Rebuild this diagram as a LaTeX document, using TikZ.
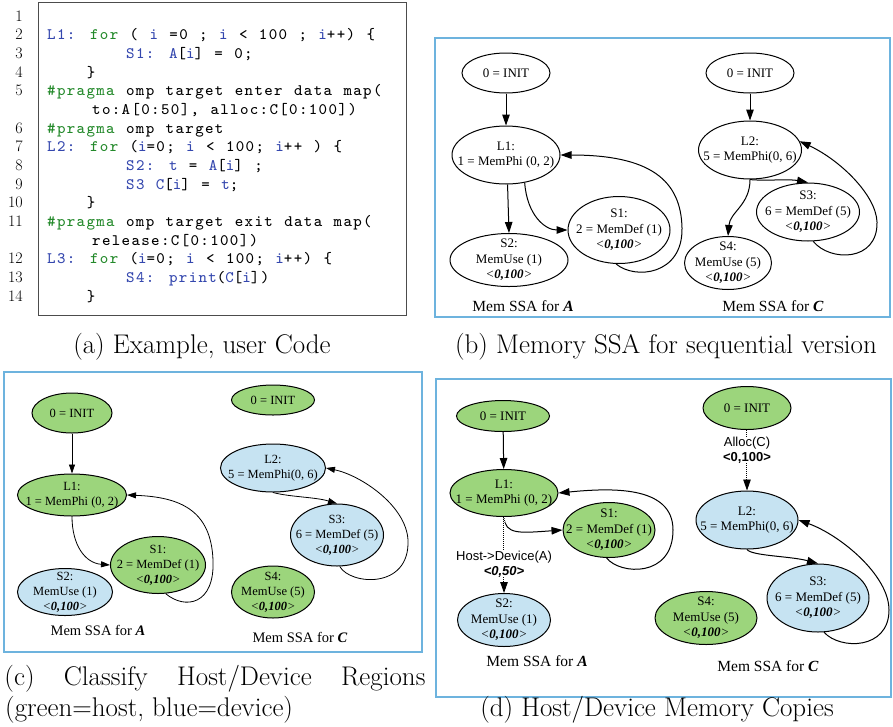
\documentclass[tikz,border=0pt]{standalone}
\usepackage{fontspec}
\usetikzlibrary{arrows.meta, shapes.geometric, positioning}
\newfontfamily\gvserif{Liberation Serif}
\newfontfamily\gvsans{Liberation Sans}
\newfontfamily\codefont{lmmono8-regular}[Extension=.otf, LetterSpace=8.4, WordSpace=1.16]
\definecolor{hostgreen}{HTML}{9CD57C}
\definecolor{devblue}{HTML}{C6E3F2}
\definecolor{panelblue}{HTML}{6DB3DE}
\definecolor{codeblue}{HTML}{3447AE}
\definecolor{codegreen}{HTML}{23892A}
\newcommand{\cid}[1]{\textcolor{codeblue}{#1}}
\newcommand{\ckw}[1]{\textcolor{codegreen}{#1}}
\newcommand{\range}[1]{\textit{<\textbf{#1}>}}

\begin{document}
\begin{tikzpicture}[x=1pt, y=-1pt,
    every node/.style={inner sep=0pt},
    every label/.style={align=center, inner sep=0pt},
    ssa/.style n args={3}{ellipse, draw, line width=1pt,
                          minimum width=#1pt, minimum height=#2pt, label={center:#3}},
    host/.style={fill=hostgreen},
    dev/.style={fill=devblue},
    arr/.style={-{Triangle[length=11pt, width=7.5pt]}, line width=1pt},
    smallarr/.style={-{Triangle[length=9pt, width=6pt]}, line width=0.8pt},
    copylink/.style={dash pattern=on 1pt off 1pt, double, double distance=1pt, line width=0.9pt},
    copylabel/.style={align=center, font=\gvsans\fontsize{13}{15}\selectfont},
    panel/.style={draw=panelblue, line width=1.2pt},
    codeline/.style={anchor=base west, font=\codefont\fontsize{16}{18}\selectfont},
    lineno/.style={anchor=base east, font=\fontsize{16}{18}\selectfont},
    capt/.style={anchor=base, font=\fontsize{27}{33}\selectfont},
    ssatitle/.style={font=\gvserif\fontsize{15.5}{18}\selectfont},
  ]
  \useasboundingbox (0,0) rectangle (893,726);

  % (a) user code
  \draw[draw=black!70, line width=0.8pt] (38,2) rectangle (406,315);
  \foreach \n/\k in {1/0,2/1,3/2,4/3,5/4,6/6,7/7,8/8,9/9,10/10,11/11,12/13,13/14,14/15}
    \node[lineno] (n\n) at (23,{21+18.68*\k}) {\n};
  \node[codeline] (c2)  at (47,39.7)   {\cid{L1:} \ckw{for} ( \cid{i} =0 ; \cid{i} < 100 ; \cid{i}++) \{};
  \node[codeline] (c3)  at (126,58.4)  {\cid{S1:} \cid{A}[\cid{i}] = 0;};
  \node[codeline] (c4)  at (86.6,77)   {\}};
  \node[codeline] (c5)  at (47,95.7)   {\ckw{\#pragma} omp target enter data map(};
  \node[codeline] (c5b) at (92,114.4)  {to:A[0:50], alloc:C[0:100])};
  \node[codeline] (c6)  at (47,133)    {\ckw{\#pragma} omp target};
  \node[codeline] (c7)  at (47,151.8)  {\cid{L2:} \ckw{for} (\cid{i}=0; \cid{i} < 100; \cid{i}++ ) \{};
  \node[codeline] (c8)  at (126,170.4) {\cid{S2:} \cid{t} = \cid{A}[\cid{i}] ;};
  \node[codeline] (c9)  at (126,189.1) {\cid{S3} \cid{C}[\cid{i}] = \cid{t};};
  \node[codeline] (c10) at (86.6,207.8) {\}};
  \node[codeline] (c11) at (47,226.5)  {\ckw{\#pragma} omp target exit data map(};
  \node[codeline] (c11b) at (92,245.2) {release:C[0:100])};
  \node[codeline] (c12) at (47,263.8)  {\cid{L3:} \ckw{for} (\cid{i}=0; \cid{i} < 100; \cid{i}++) \{};
  \node[codeline] (c13) at (126,282.5) {\cid{S4:} \cid{print}(\cid{C}[\cid{i}])};
  \node[codeline] (c14) at (86.6,301.2) {\}};

  % (b) sequential memory SSA
  \draw[panel] (435,38) rectangle (890,317);
  \begin{scope}[font=\gvserif\fontsize{13}{15.5}\selectfont]
    \node[ssa={88}{40}{0 = INIT}] (bA0) at (506,73) {};
    \node[ssa={108}{58}{L1:\\1 = MemPhi (0, 2)}] (bL1) at (506,155) {};
    \node[ssa={118}{53}{S2:\\MemUse (1)\\\range{0,100}}] (bS2) at (509,260) {};
    \node[ssa={102}{67}{S1:\\2 = MemDef (1)\\\range{0,100}}] (bS1) at (619,230) {};
    \node[ssa={88}{40}{0 = INIT}] (bC0) at (750,73) {};
    \node[ssa={103}{58}{L2:\\5 = MemPhi(0, 6)}] (bL2) at (750,150) {};
    \node[ssa={103}{58}{S3:\\6 = MemDef (5)\\\range{0,100}}] (bS3) at (808,212) {};
    \node[ssa={87}{53}{S4:\\MemUse (5)\\\range{0,100}}] (bS4) at (728,263) {};
  \end{scope}
  \node[ssatitle] (bTA) at (523,306) {Mem SSA for \textbf{\textit{A}}};
  \node[ssatitle] (bTC) at (773,306) {Mem SSA for \textbf{\textit{C}}};

  \draw[arr] (bA0) -- (bL1);
  \draw[arr] (bL1.-87) -- (bS2.north);
  \draw[arr] (bL1.-56) .. controls (527,215) and (545,230) .. (bS1.west);
  \draw[arr] (bS1.-95) .. controls (635,280) and (683,275) .. (682,228)
                       .. controls (681,180) and (650,155) .. (bL1.east);
  \draw[arr] (bC0) -- (bL2);
  \draw[arr] (bL2.south) .. controls (760,181) and (790,179) .. (bS3.north);
  \draw[arr] (bL2.south) .. controls (750,205) and (730,212) .. (bS4.north);
  \draw[arr] (bS3.-80) .. controls (830,262) and (878,262) .. (877,222)
                       .. controls (876,195) and (840,160) .. (bL2.10);

  % (c) host / device regions
  \draw[panel] (4,372) rectangle (422,652);
  \begin{scope}[font=\gvserif\fontsize{12.5}{15}\selectfont]
    \node[ssa={80}{40}{0 = INIT}, host] (cA0) at (72,413) {};
    \node[ssa={109}{42}{L1:\\1 = MemPhi (0, 2)}, host] (cL1) at (72,495) {};
    \node[ssa={95}{57}{S1:\\2 = MemDef (1)\\\range{0,100}}, host] (cS1) at (158,565) {};
    \node[ssa={95}{47}{S2:\\MemUse (1)\\\range{0,100}}, dev] (cS2) at (65,592) {};
    \node[ssa={83}{30}{0 = INIT}, host] (cC0) at (273,400) {};
    \node[ssa={105}{48}{L2:\\5 = MemPhi(0, 6)}, dev] (cL2) at (273,468) {};
    \node[ssa={93}{62}{S3:\\6 = MemDef (5)\\\range{0,100}}, dev] (cS3) at (337,535) {};
    \node[ssa={83}{52}{S4:\\MemUse (5)\\\range{0,100}}, host] (cS4) at (273,592) {};
  \end{scope}
  \node[ssatitle, font=\gvserif\fontsize{14.5}{17}\selectfont] (cTA) at (98,630) {Mem SSA for \textbf{\textit{A}}};
  \node[ssatitle, font=\gvserif\fontsize{14.5}{17}\selectfont] (cTC) at (300,637) {Mem SSA for \textbf{\textit{C}}};

  \draw[smallarr] (cA0) -- (cL1);
  \draw[smallarr] (cL1.south) .. controls (72,545) and (85,563) .. (cS1.west);
  \draw[smallarr] (cS1.-75) .. controls (185,610) and (215,605) .. (213,560)
                            .. controls (211,510) and (180,497) .. (cL1.east);
  \draw[smallarr] (cL2.south) .. controls (290,497) and (315,497) .. (cS3.north);
  \draw[smallarr] (cS3.-85) .. controls (350,585) and (410,590) .. (408,540)
                            .. controls (406,505) and (360,475) .. (cL2.east);

  % (d) host / device memory copies
  \draw[panel] (436,379) rectangle (891,697);
  \begin{scope}[font=\gvserif\fontsize{13}{15.5}\selectfont]
    \node[ssa={93}{31}{0 = INIT}, host] (dA0) at (503,416) {};
    \node[ssa={108}{47}{L1:\\1 = MemPhi (0, 2)}, host] (dL1) at (504,493) {};
    \node[ssa={92}{55}{S1:\\2 = MemDef (1)\\\range{0,100}}, host] (dS1) at (609,530) {};
    \node[ssa={93}{53}{S2:\\MemUse (1)\\\range{0,100}}, dev] (dS2) at (504,620) {};
    \node[ssa={88}{43}{0 = INIT}, host] (dC0) at (747,408) {};
    \node[ssa={102}{58}{L2:\\5 = MemPhi(0, 6)}, dev] (dL2) at (747,520) {};
    \node[ssa={102}{68}{S3:\\6 = MemDef (5)\\\range{0,100}}, dev] (dS3) at (818,598) {};
    \node[ssa={102}{53}{S4:\\MemUse (5)\\\range{0,100}}, host] (dS4) at (706,618) {};
  \end{scope}
  \node[copylabel] (dHD) at (504,564) {Host->Device(A)\\\textbf{\textit{<0,50>}}};
  \node[copylabel] (dAC) at (747,450) {Alloc(C)\\\textbf{<0,100>}};
  \node[ssatitle] (dTA) at (537,661) {Mem SSA for \textbf{\textit{A}}};
  \node[ssatitle] (dTC) at (768,666) {Mem SSA for \textbf{\textit{C}}};

  \draw[arr] (dA0) -- (dL1);
  \draw[arr] (dL1.south) .. controls (505,535) and (520,533) .. (dS1.west);
  \draw[copylink] (dL1.south) -- (dHD.north);
  \draw[copylink, -{Triangle[length=11pt, width=7.5pt]}] (dHD.south) -- (dS2.north);
  \draw[arr] (dS1.-95) .. controls (620,575) and (673,578) .. (673,530)
                       .. controls (673,485) and (610,488) .. (dL1.east);
  \draw[copylink] (dC0.south) -- (dAC.north);
  \draw[copylink, -{Triangle[length=11pt, width=7.5pt]}] (dAC.south) -- (dL2.north);
  \draw[arr] (dL2.south) .. controls (752,556) and (790,556) .. (dS3.north);
  \draw[arr] (dS3.-80) .. controls (840,650) and (889,650) .. (889,610)
                       .. controls (889,575) and (840,535) .. (dL2.east);

  % captions
  \node[capt] (capA) at (202,353) {(a) Example, user Code};
  \node[capt] (capB) at (666,353) {(b) Memory SSA for sequential version};
  \node[capt] (capC) at (215,685) {\makebox[421pt][s]{(c) Classify Host/Device Regions}};
  \node[capt, anchor=base west] (capC2) at (5,716) {(green=host, blue=device)};
  \node[capt] (capD) at (657,716) {(d) Host/Device Memory Copies};
\end{tikzpicture}
\end{document}
